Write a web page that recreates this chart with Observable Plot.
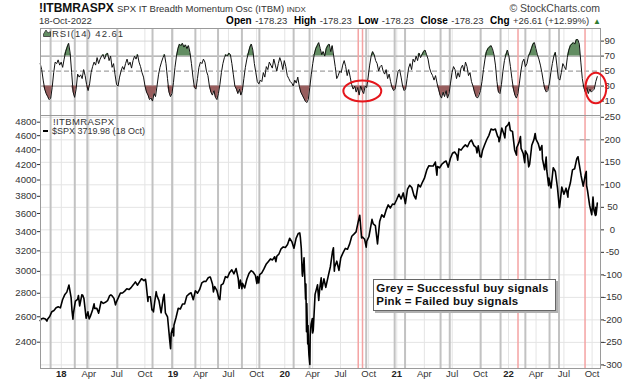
<!DOCTYPE html>
<html><head><meta charset="utf-8">
<script src="https://cdn.jsdelivr.net/npm/d3@7"></script>
<script src="https://cdn.jsdelivr.net/npm/@observablehq/plot@0.6"></script>
<style>
body{margin:0;background:#fff;}
#chart{position:relative;width:638px;height:384px;background:#fff;font-family:"Liberation Sans",Arial,sans-serif;color:#333;overflow:hidden;}
.layer{position:absolute;left:0;}
.abs{position:absolute;white-space:nowrap;}
.lb{font-weight:bold;font-size:10px;color:#000;margin-left:6.5px;}
.lb.first{margin-left:0;}
.v{margin-left:3.5px;}
</style></head><body><div id="chart"></div>
<script>
// ---------- data ----------
const spxDates = [
"2017-10-24","2017-10-27",
"2017-11-03","2017-11-10","2017-11-15","2017-11-17","2017-11-24",
"2017-12-01","2017-12-08","2017-12-15","2017-12-22","2017-12-29",
"2018-01-05","2018-01-12","2018-01-19","2018-01-26",
"2018-02-02","2018-02-05","2018-02-08","2018-02-09","2018-02-16","2018-02-23","2018-02-26",
"2018-03-02","2018-03-09","2018-03-12","2018-03-16","2018-03-23","2018-03-29",
"2018-04-02","2018-04-06","2018-04-13","2018-04-18","2018-04-20","2018-04-27",
"2018-05-03","2018-05-11","2018-05-18","2018-05-25",
"2018-06-01","2018-06-08","2018-06-12","2018-06-15","2018-06-22","2018-06-27","2018-06-29",
"2018-07-06","2018-07-13","2018-07-20","2018-07-27",
"2018-08-03","2018-08-10","2018-08-17","2018-08-24","2018-08-31",
"2018-09-07","2018-09-14","2018-09-20","2018-09-28",
"2018-10-03","2018-10-05","2018-10-11","2018-10-12","2018-10-19","2018-10-24","2018-10-26","2018-10-29",
"2018-11-02","2018-11-07","2018-11-09","2018-11-16","2018-11-23","2018-11-30",
"2018-12-03","2018-12-07","2018-12-14","2018-12-21","2018-12-24","2018-12-26","2018-12-31",
"2019-01-03","2019-01-04","2019-01-11","2019-01-18","2019-01-25",
"2019-02-01","2019-02-08","2019-02-15","2019-02-22",
"2019-03-01","2019-03-08","2019-03-15","2019-03-22","2019-03-29",
"2019-04-05","2019-04-12","2019-04-18","2019-04-26","2019-04-30",
"2019-05-03","2019-05-10","2019-05-13","2019-05-17","2019-05-24","2019-05-31",
"2019-06-03","2019-06-07","2019-06-14","2019-06-21","2019-06-28",
"2019-07-05","2019-07-12","2019-07-19","2019-07-26",
"2019-08-02","2019-08-05","2019-08-09","2019-08-14","2019-08-16","2019-08-23","2019-08-30",
"2019-09-06","2019-09-13","2019-09-20","2019-09-27",
"2019-10-02","2019-10-04","2019-10-08","2019-10-11","2019-10-18","2019-10-25",
"2019-11-01","2019-11-08","2019-11-15","2019-11-22","2019-11-29",
"2019-12-03","2019-12-06","2019-12-13","2019-12-20","2019-12-27",
"2020-01-03","2020-01-10","2020-01-17","2020-01-24","2020-01-31",
"2020-02-07","2020-02-14","2020-02-19","2020-02-21","2020-02-24","2020-02-27","2020-02-28",
"2020-03-04","2020-03-06","2020-03-09","2020-03-10","2020-03-12","2020-03-13","2020-03-16","2020-03-17","2020-03-18","2020-03-20","2020-03-23","2020-03-24","2020-03-27","2020-03-31",
"2020-04-01","2020-04-03","2020-04-09","2020-04-17","2020-04-21","2020-04-24","2020-04-29",
"2020-05-01","2020-05-08","2020-05-14","2020-05-22","2020-05-29",
"2020-06-05","2020-06-08","2020-06-11","2020-06-12","2020-06-19","2020-06-26",
"2020-07-02","2020-07-10","2020-07-17","2020-07-24","2020-07-31",
"2020-08-07","2020-08-14","2020-08-21","2020-08-28",
"2020-09-02","2020-09-08","2020-09-11","2020-09-18","2020-09-23","2020-09-25",
"2020-10-02","2020-10-09","2020-10-12","2020-10-16","2020-10-23","2020-10-30",
"2020-11-06","2020-11-13","2020-11-20","2020-11-27",
"2020-12-04","2020-12-11","2020-12-18","2020-12-24","2020-12-31",
"2021-01-08","2021-01-15","2021-01-22","2021-01-29",
"2021-02-05","2021-02-12","2021-02-19","2021-02-26",
"2021-03-04","2021-03-12","2021-03-19","2021-03-26",
"2021-04-01","2021-04-09","2021-04-16","2021-04-23","2021-04-30",
"2021-05-07","2021-05-12","2021-05-14","2021-05-21","2021-05-28",
"2021-06-04","2021-06-11","2021-06-18","2021-06-25",
"2021-07-02","2021-07-09","2021-07-16","2021-07-19","2021-07-23","2021-07-30",
"2021-08-06","2021-08-13","2021-08-20","2021-08-27",
"2021-09-02","2021-09-10","2021-09-17","2021-09-20","2021-09-24","2021-09-30",
"2021-10-04","2021-10-08","2021-10-15","2021-10-22","2021-10-29",
"2021-11-05","2021-11-12","2021-11-19","2021-11-26","2021-11-30",
"2021-12-01","2021-12-03","2021-12-10","2021-12-17","2021-12-20","2021-12-23","2021-12-31",
"2022-01-03","2022-01-07","2022-01-14","2022-01-21","2022-01-27","2022-01-28",
"2022-02-04","2022-02-09","2022-02-11","2022-02-18","2022-02-23","2022-02-25",
"2022-03-04","2022-03-08","2022-03-11","2022-03-18","2022-03-25","2022-03-29",
"2022-04-01","2022-04-08","2022-04-14","2022-04-20","2022-04-22","2022-04-29",
"2022-05-04","2022-05-06","2022-05-12","2022-05-13","2022-05-20","2022-05-27",
"2022-06-03","2022-06-10","2022-06-16","2022-06-17","2022-06-24",
"2022-07-01","2022-07-08","2022-07-14","2022-07-15","2022-07-22","2022-07-29",
"2022-08-05","2022-08-12","2022-08-16","2022-08-19","2022-08-26",
"2022-09-02","2022-09-09","2022-09-12","2022-09-13","2022-09-16","2022-09-23","2022-09-30",
"2022-10-04","2022-10-07","2022-10-12","2022-10-13","2022-10-14","2022-10-17","2022-10-18"
];
const spxClose = [
2569,2581,
2588,2582,2565,2579,2602,
2642,2652,2675,2683,2674,
2743,2786,2810,2873,
2762,2649,2581,2620,2732,2747,2780,
2691,2786,2783,2752,2588,2641,
2582,2604,2656,2708,2670,2670,
2630,2728,2712,2721,
2735,2779,2786,2780,2755,2699,2718,
2760,2801,2802,2819,
2840,2833,2850,2875,2902,
2872,2905,2931,2914,
2926,2886,2728,2767,2768,2656,2659,2641,
2723,2814,2781,2736,2633,2760,
2790,2633,2600,2417,2351,2468,2507,
2448,2532,2596,2671,2665,
2707,2708,2776,2793,
2804,2743,2822,2801,2834,
2893,2907,2905,2940,2946,
2946,2881,2812,2860,2826,2752,
2744,2873,2887,2950,2942,
2990,3014,2977,3026,
2932,2844,2919,2840,2889,2847,2926,
2979,3007,2992,2962,
2887,2952,2893,2970,2986,3023,
3067,3093,3120,3110,3141,
3093,3146,3169,3221,3240,
3235,3265,3330,3295,3226,
3328,3380,3386,3338,3226,2979,2954,
3130,2972,2747,2882,2481,2711,2386,2529,2398,2305,2237,2447,2541,2585,
2471,2489,2790,2875,2737,2837,2940,
2831,2930,2852,2955,3044,
3194,3232,3002,3041,3098,3009,
3130,3185,3225,3216,3271,
3351,3373,3397,3508,
3580,3332,3341,3319,3237,3298,
3348,3477,3534,3484,3465,3270,
3509,3585,3558,3638,
3699,3663,3709,3703,3756,
3825,3768,3841,3714,
3887,3934,3907,3811,
3768,3943,3913,3975,
4020,4129,4185,4180,4181,
4233,4063,4174,4156,4204,
4230,4247,4166,4281,
4352,4370,4327,4258,4412,4395,
4437,4468,4442,4509,
4537,4459,4433,4358,4455,4308,
4300,4391,4471,4545,4605,
4697,4683,4698,4595,4567,
4513,4538,4712,4620,4568,4726,4766,
4797,4677,4663,4398,4327,4432,
4501,4587,4419,4349,4226,4385,
4329,4170,4204,4463,4543,4632,
4546,4488,4393,4459,4272,4132,
4300,4123,3930,4024,3901,4158,
4109,3901,3667,3675,3912,
3825,3899,3790,3863,3962,4130,
4145,4280,4305,4228,4058,
3924,4067,4110,3932,3873,3693,3586,
3791,3640,3577,3670,3583,3678,3720
];

const rsiStart = "2017-10-24";
const rsiEnd = "2022-10-18";
const rsiValues = [
60,52,38,26,20,16,12,14,28,48,62,60,65,58,62,55,66,76,82,87,
74,48,22,15,26,46,42,45,40,52,44,32,24,33,48,56,62,58,68,60,
66,70,72,66,72,74,64,70,55,60,45,32,30,42,50,56,52,60,66,58,
62,54,64,70,66,72,62,56,48,42,30,22,18,12,14,10,20,16,30,45,
55,62,68,72,60,40,22,16,20,35,55,70,80,86,84,87,82,85,80,84,
75,60,42,28,26,40,55,62,60,66,62,50,44,30,22,18,24,15,12,20,
32,48,60,68,72,70,74,72,60,45,30,26,20,26,18,24,40,55,66,74,
82,86,78,60,48,36,33,38,36,48,42,56,52,62,58,54,66,58,50,60,
68,62,52,64,56,44,40,36,34,30,38,34,42,30,22,18,14,10,8,12,
28,45,60,72,80,84,88,80,72,76,70,80,84,86,76,84,70,56,40,44,
50,48,58,64,56,44,52,42,32,26,30,22,28,18,30,24,20,30,28,42,
58,70,76,72,64,60,50,56,58,50,46,52,40,46,36,28,24,26,38,50,
52,42,30,24,26,40,54,60,52,66,62,70,64,74,68,72,76,78,72,66,
54,48,44,38,44,34,26,18,14,22,16,24,14,20,34,48,56,52,40,48,
42,54,58,50,62,56,44,48,36,30,22,16,14,18,24,36,52,66,76,80,
82,84,80,72,58,36,22,20,32,50,64,72,78,70,56,40,26,18,14,20,
34,50,62,66,56,60,70,74,80,86,88,80,72,66,58,48,36,26,22,24,
34,48,60,70,75,58,40,38,48,60,56,52,68,78,84,86,88,86,92,92,
86,62,40,28,22,28,20,26,22,24,26,36,42.61
];

const successSignals = ["2017-11-27","2018-02-14","2018-03-27","2018-07-03","2018-10-26","2018-12-29",
  "2019-03-15","2019-05-28","2019-08-14","2019-10-10","2020-01-30","2020-03-22","2020-09-23",
  "2020-12-25","2021-01-28","2021-05-24","2021-06-23","2021-10-02","2021-12-06","2022-02-25",
  "2022-05-15","2022-06-15"];
const failedSignals = ["2020-08-28","2020-09-11","2022-02-01","2022-09-08"];

const rsiTicks = [10, 30, 50, 70, 90];
const spxTicks = [2400, 2600, 2800, 3000, 3200, 3400, 3600, 3800, 4000, 4200, 4400, 4600, 4800];
const itbmTicks = [-300, -250, -200, -150, -100, -50, 0, 50, 100, 150, 200, 250];
const xTickDates = ["2018-01-01","2018-04-01","2018-07-01","2018-10-01","2019-01-01","2019-04-01","2019-07-01","2019-10-01",
  "2020-01-01","2020-04-01","2020-07-01","2020-10-01","2021-01-01","2021-04-01","2021-07-01","2021-10-01",
  "2022-01-01","2022-04-01","2022-07-01","2022-10-01"];
const xTickLabels = ["18","Apr","Jul","Oct","19","Apr","Jul","Oct","20","Apr","Jul","Oct","21","Apr","Jul","Oct","22","Apr","Jul","Oct"];

// annotations (red ellipses on the RSI panel), in data units
const ellipseDates = ["2020-09-12", "2022-10-15"];
const ellipseRsi = [22.8, 26.8];
const ellipseHalfDays = [62, 34];
const ellipseHalfRsi = [14, 20.4];
// small ITBM value marker
const itbmMarkerValue = 200;
const itbmMarkerFrom = "2022-08-23", itbmMarkerTo = "2022-09-25";

// ---------- build ----------
const xDomain = [new Date("2017-10-25T00:00Z"), new Date("2022-10-28T12:00Z")];
const W = 638, ML = 40, MR = 38;
const baseStyle = {background: "transparent", overflow: "visible",
  fontFamily: '"Liberation Sans", Arial, sans-serif', fontSize: "9.5px", color: "#333"};

const t0 = new Date(rsiStart).getTime(), t1 = new Date(rsiEnd).getTime();
const rsi = rsiValues.map((v, i) => ({date: new Date(t0 + i * (t1 - t0) / (rsiValues.length - 1)), value: v}));
const spx = spxDates.map((d, i) => ({date: new Date(d), close: spxClose[i]}));
const succ = successSignals.map(d => new Date(d));
const fail = failedSignals.map(d => new Date(d));
const quarters = xTickDates.map(d => new Date(d));
const xTicks = xTickDates.map((d, i) => ({date: new Date(d), label: xTickLabels[i], year: /^\d+$/.test(xTickLabels[i])}));

const GREY_SIG = "#c2c2c2", PINK_SIG = "#f4a3a3", GRID = "#e4e4e4", FRAME = "#9a9a9a";

const topPlot = Plot.plot({
  width: W, height: 95, marginTop: 8, marginBottom: 0, marginLeft: ML, marginRight: MR,
  x: {type: "utc", domain: xDomain, axis: null},
  y: {domain: [-9.2, 106.8], axis: null},
  style: baseStyle,
  marks: [
    Plot.ruleX(quarters, {stroke: GRID}),
    Plot.ruleY([90, 10], {stroke: "#d6d6d6"}),
    Plot.ruleY([70, 30], {stroke: "#8a8a8a"}),
    Plot.ruleY([50], {stroke: "#8a8a8a", strokeDasharray: "5,3"}),
    Plot.ruleX(succ, {stroke: GREY_SIG, strokeWidth: 2}),
    Plot.ruleX(fail, {stroke: PINK_SIG, strokeWidth: 1.5}),
    Plot.areaY(rsi, {x: "date", y1: () => 70, y2: d => Math.max(70, d.value), fill: "#628d62"}),
    Plot.areaY(rsi, {x: "date", y1: () => 30, y2: d => Math.min(30, d.value), fill: "#985e5e"}),
    Plot.line(rsi, {x: "date", y: "value", stroke: "#111", strokeWidth: 1}),
    Plot.frame({stroke: FRAME}),
    Plot.axisY(rsiTicks, {anchor: "right", label: null, tickSize: 3, tickPadding: 1, tickFormat: d => String(d)})
  ]
});

const gridPlot = Plot.plot({
  width: W, height: 274, marginTop: 5, marginBottom: 16, marginLeft: ML, marginRight: MR,
  x: {type: "utc", domain: xDomain, axis: null},
  y: {domain: [-308, 254], axis: null},
  style: baseStyle,
  marks: [
    Plot.ruleY(itbmTicks, {stroke: GRID}),
    Plot.ruleX(quarters, {stroke: GRID}),
    Plot.ruleY([itbmMarkerValue], {x1: () => new Date(itbmMarkerFrom), x2: () => new Date(itbmMarkerTo), stroke: "#999"}),
    Plot.axisY(itbmTicks, {anchor: "right", label: null, tickSize: 3, tickFormat: () => ""}),
    Plot.text(itbmTicks, {y: d => d, text: d => String(d), frameAnchor: "right", dx: 12, textAnchor: "middle", fill: "#333"})
  ]
});

const mainPlot = Plot.plot({
  width: W, height: 274, marginTop: 5, marginBottom: 16, marginLeft: ML, marginRight: MR,
  x: {type: "utc", domain: xDomain, axis: null},
  y: {type: "log", domain: [2209, 4902], axis: null},
  style: baseStyle,
  marks: [
    Plot.ruleX(succ, {stroke: GREY_SIG, strokeWidth: 2}),
    Plot.ruleX(fail, {stroke: PINK_SIG, strokeWidth: 1.5}),
    Plot.line(spx, {x: "date", y: "close", stroke: "#000", strokeWidth: 1.6}),
    Plot.frame({stroke: FRAME}),
    Plot.axisY(spxTicks, {anchor: "left", label: null, tickSize: 3, tickPadding: 1, tickFormat: d => String(d)}),
    Plot.text(xTicks.filter(d => d.year), {x: "date", text: "label", frameAnchor: "bottom", dy: 8, fontWeight: "bold", fill: "#222"}),
    Plot.text(xTicks.filter(d => !d.year), {x: "date", text: "label", frameAnchor: "bottom", dy: 8, fill: "#333"})
  ]
});

// red ellipses through the top plot's scales
(function addEllipses(plot) {
  const xs = plot.scale("x"), ys = plot.scale("y");
  const fx = xs.apply ? d => xs.apply(d) : d3.scaleUtc(xs.domain, xs.range);
  const fy = ys.apply ? v => ys.apply(v) : d3.scaleLinear(ys.domain, ys.range);
  const g = d3.select(plot).append("g");
  ellipseDates.forEach((ds, i) => {
    const c = new Date(ds);
    const cx = fx(c), cy = fy(ellipseRsi[i]);
    const rx = Math.abs(fx(new Date(c.getTime() + ellipseHalfDays[i] * 864e5)) - cx);
    const ry = Math.abs(fy(ellipseRsi[i] + ellipseHalfRsi[i]) - cy);
    g.append("ellipse").attr("cx", cx).attr("cy", cy).attr("rx", rx).attr("ry", ry)
      .attr("fill", "none").attr("stroke", "#e5161c").attr("stroke-width", 2);
  });
})(topPlot);

const chart = document.getElementById("chart");
[[gridPlot, 110], [topPlot, 20], [mainPlot, 110]].forEach(([p, top]) => {
  p.classList.add("layer");
  p.style.top = top + "px";
  chart.appendChild(p);
});

// ---------- texts ----------
chart.insertAdjacentHTML("beforeend", `
<div class="abs" style="left:39px;top:1.8px;font-size:12px;line-height:12px;font-weight:bold;color:#111">!ITBMRASPX</div>
<div class="abs" style="left:117px;top:4px;font-size:9.5px;line-height:9.5px;color:#333">SPX IT Breadth Momentum Osc (ITBM) <span style="font-size:8px">INDX</span></div>
<div class="abs" style="right:38px;top:2.8px;font-size:10.5px;line-height:10.5px;color:#444">© StockCharts.com</div>
<div class="abs" style="left:39px;top:16px;font-size:9.5px;line-height:9.5px;color:#333">18-Oct-2022</div>
<div class="abs" style="right:37px;top:16px;font-size:9.5px;line-height:9.5px;color:#333"><span class="lb first">Open</span><span class="v">-178.23</span><span class="lb">High</span><span class="v">-178.23</span><span class="lb">Low</span><span class="v">-178.23</span><span class="lb">Close</span><span class="v">-178.23</span><span class="lb">Chg</span><span class="v">+26.61 (+12.99%)</span><span style="margin-left:4px;color:#2f7d2f;font-size:8px">▲</span></div>
<svg class="abs" style="left:43px;top:29px" width="8" height="8" viewBox="0 0 8 8"><path d="M0.5,7.5 L0.5,5 L3,1 L5,4 L7.5,2.5 L7.5,7.5 Z" fill="#628d62" stroke="#333" stroke-width="0.8"/></svg>
<div class="abs" style="left:52px;top:28.6px;font-size:9.5px;line-height:9.5px;letter-spacing:1px;color:#333">RSI(14) 42.61</div>
<div class="abs" style="left:53px;top:117px;font-size:9.5px;line-height:9.5px;letter-spacing:0.4px;color:#333">!ITBMRASPX</div>
<div class="abs" style="left:42.7px;top:130.3px;width:5.6px;height:1.5px;background:#000"></div>
<div class="abs" style="left:52px;top:126.5px;font-size:9px;line-height:9px;color:#333">$SPX 3719.98 (18 Oct)</div>
<div class="abs" style="left:373px;top:279px;width:183px;height:32px;border:1px solid #666;box-shadow:2px 2px 0 #b0b0b0;background:#fff;font-size:11.5px;line-height:13px;font-weight:bold;letter-spacing:0.2px;color:#111;padding:2.4px 0 0 2.3px;box-sizing:border-box">Grey = Successful buy signals<br>Pink = Failed buy signals</div>
`);
</script></body></html>
